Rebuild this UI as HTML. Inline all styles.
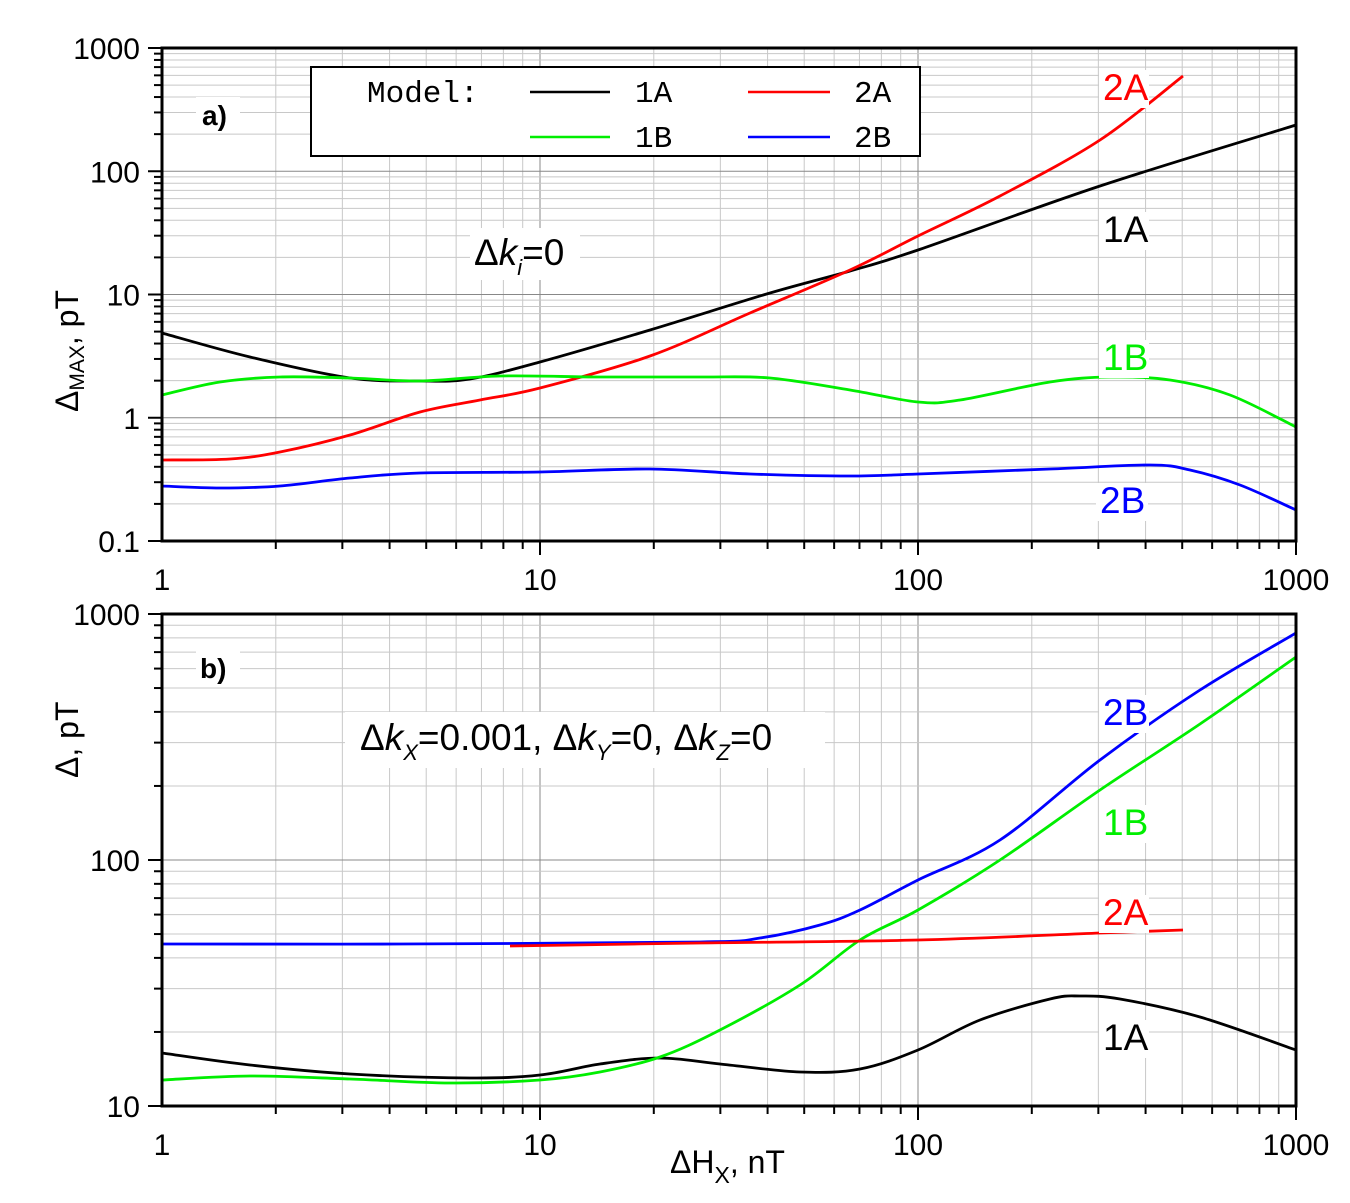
<!DOCTYPE html>
<html><head><meta charset="utf-8"><style>
body{margin:0;background:#fff}
svg{display:block}
</style></head><body>
<svg id="s" width="1350" height="1203" xmlns="http://www.w3.org/2000/svg" font-family="Liberation Sans,sans-serif"></svg>
<script>
const S=document.getElementById('s');let h='';
const X0=162,X1=1296,dx=(X1-X0)/3;
function panel(yTop,yBot,decs,labels){
  const dy=(yBot-yTop)/decs;
  for(let d=0;d<3;d++)for(let m=1;m<=9;m++){const x=X0+dx*(d+Math.log10(m));
    if(m==1&&d==0)continue;
    h+=`<line x1="${x}" y1="${yTop}" x2="${x}" y2="${yBot}" stroke="${m==1?'#888':'#c8c8c8'}" stroke-width="1"/>`;
    h+=`<line x1="${x}" y1="${yBot}" x2="${x}" y2="${yBot+(m==1?14:8)}" stroke="#000" stroke-width="2"/>`;}
  h+=`<line x1="${X1}" y1="${yBot}" x2="${X1}" y2="${yBot+14}" stroke="#000" stroke-width="2"/>`;
  for(let d=0;d<decs;d++)for(let m=1;m<=9;m++){const y=yBot-dy*(d+Math.log10(m));
    if(m==1&&d==0)continue;
    h+=`<line x1="${X0}" y1="${y}" x2="${X1}" y2="${y}" stroke="${m==1?'#888':'#c8c8c8'}" stroke-width="1"/>`;
    h+=`<line x1="${X0-(m==1?14:8)}" y1="${y}" x2="${X0}" y2="${y}" stroke="#000" stroke-width="2"/>`;}
  h+=`<line x1="${X0-14}" y1="${yTop}" x2="${X0}" y2="${yTop}" stroke="#000" stroke-width="2"/>`;
  h+=`<line x1="${X0-14}" y1="${yBot}" x2="${X0}" y2="${yBot}" stroke="#000" stroke-width="2"/>`;
  for(let d=0;d<=decs;d++){const y=yBot-dy*d;h+=`<text x="${X0-22}" y="${y+11}" font-size="30" text-anchor="end">${labels[d]}</text>`;}
  ['1','10','100','1000'].forEach((t,i)=>{h+=`<text x="${X0+dx*i}" y="${yBot+49}" font-size="30" text-anchor="middle">${t}</text>`;});
}
panel(48,541,4,['0.1','1','10','100','1000']);
panel(614,1106,2,['10','100','1000']);
function pl(s,c){const p=s.split(' ').map(q=>q.split(',').map(Number));
  let d=`M${p[0][0]},${p[0][1]}`;
  for(let i=0;i<p.length-1;i++){const a=p[Math.max(0,i-1)],b=p[i],e=p[i+1],f=p[Math.min(p.length-1,i+2)];
    d+=` C${b[0]+(e[0]-a[0])/6},${b[1]+(e[1]-a[1])/6} ${e[0]-(f[0]-b[0])/6},${e[1]-(f[1]-b[1])/6} ${e[0]},${e[1]}`;}
  h+=`<path d="${d}" fill="none" stroke="${c}" stroke-width="2.8"/>`;}
function lbl(x,y,t,c,w){h+=`<rect x="${x-4}" y="${y-30}" width="${w}" height="38" fill="#fff"/><text x="${x}" y="${y}" font-size="37" fill="${c}">${t}</text>`;}
pl("162,333 250,357 350,378 420,381 470,379 540,362 650,330 770,293 850,271 918,250 1100,186 1296,125","#000");
pl("162,460 230,459 280,452 350,435 420,412 480,400 540,388 650,356 750,313 850,270 918,236 1000,196 1100,140 1183,76","#f00");
pl("162,395 220,382 280,377 350,378 420,381 500,376 600,377 700,377 770,378 850,390 918,402 960,400 1050,382 1110,377 1170,380 1230,395 1296,427","#0e0");
pl("162,486 220,488 280,486 350,478 420,473 540,472 650,469 750,474 850,476 918,474 1050,469 1150,465 1190,470 1240,485 1296,510","#00f");
pl("162,1053 250,1065 350,1074 470,1078 540,1075 600,1064 660,1058 720,1064 800,1072 860,1069 918,1050 980,1020 1050,999 1080,996 1120,999 1200,1017 1296,1050","#000");
pl("162,1080 250,1076 350,1079 450,1083 540,1080 600,1072 660,1057 720,1030 800,985 860,940 918,910 1000,860 1100,790 1200,724 1296,657","#0e0");
pl("162,944 400,944 700,942 760,938 820,925 860,910 918,880 1000,840 1100,760 1200,690 1296,633","#00f");
pl("510,946 700,943 918,940 1100,933 1183,930","#f00");
lbl(1103,100,"2A","#f00",50);lbl(1103,242,"1A","#000",50);lbl(1103,370,"1B","#0e0",50);lbl(1100,513,"2B","#00f",52);
lbl(1103,725,"2B","#00f",50);lbl(1103,835,"1B","#0e0",50);lbl(1103,925,"2A","#f00",50);lbl(1103,1050,"1A","#000",50);
h+=`<rect x="196" y="97" width="44" height="36" fill="#fff"/><text x="202" y="125" font-size="28" font-weight="bold">a)</text>`;
h+=`<rect x="196" y="650" width="44" height="36" fill="#fff"/><text x="200" y="678" font-size="28" font-weight="bold">b)</text>`;
h+=`<rect x="470" y="228" width="110" height="52" fill="#fff"/><text x="474" y="265" font-size="37">Δ<tspan font-style="italic">k</tspan><tspan font-size="22" font-style="italic" dy="10">i</tspan><tspan dy="-10">=0</tspan></text>`;
h+=`<rect x="345" y="712" width="480" height="56" fill="#fff"/><text x="360" y="750" font-size="37">Δ<tspan font-style="italic">k</tspan><tspan font-size="22" font-style="italic" dy="10">X</tspan><tspan dy="-10">=0.001, Δ</tspan><tspan font-style="italic">k</tspan><tspan font-size="22" font-style="italic" dy="10">Y</tspan><tspan dy="-10">=0, Δ</tspan><tspan font-style="italic">k</tspan><tspan font-size="22" font-style="italic" dy="10">Z</tspan><tspan dy="-10">=0</tspan></text>`;
h+=`<rect x="${X0}" y="48" width="${X1-X0}" height="493" fill="none" stroke="#000" stroke-width="3"/>`;
h+=`<rect x="${X0}" y="614" width="${X1-X0}" height="492" fill="none" stroke="#000" stroke-width="3"/>`;
h+=`<rect x="311" y="67" width="609" height="89" fill="#fff" stroke="#000" stroke-width="2"/>`;
const mono='font-family="Liberation Mono,monospace" font-size="31"';
h+=`<text x="367" y="102" ${mono}>Model:</text>`;
h+=`<line x1="530" y1="92" x2="610" y2="92" stroke="#000" stroke-width="2.5"/><text x="635" y="102" ${mono}>1A</text>`;
h+=`<line x1="748" y1="92" x2="830" y2="92" stroke="#f00" stroke-width="2.5"/><text x="854" y="102" ${mono}>2A</text>`;
h+=`<line x1="530" y1="137" x2="610" y2="137" stroke="#0e0" stroke-width="2.5"/><text x="635" y="147" ${mono}>1B</text>`;
h+=`<line x1="748" y1="137" x2="830" y2="137" stroke="#00f" stroke-width="2.5"/><text x="854" y="147" ${mono}>2B</text>`;
h+=`<text transform="translate(78,412) rotate(-90)" font-size="32">Δ<tspan font-size="21" dy="6">MAX</tspan><tspan dy="-6">, pT</tspan></text>`;
h+=`<text transform="translate(78,778) rotate(-90)" font-size="32">Δ, pT</text>`;
h+=`<text x="670" y="1173" font-size="32">ΔH<tspan font-size="23" dy="10">X</tspan><tspan dy="-10">, nT</tspan></text>`;
S.innerHTML=h;
</script>
</body></html>
